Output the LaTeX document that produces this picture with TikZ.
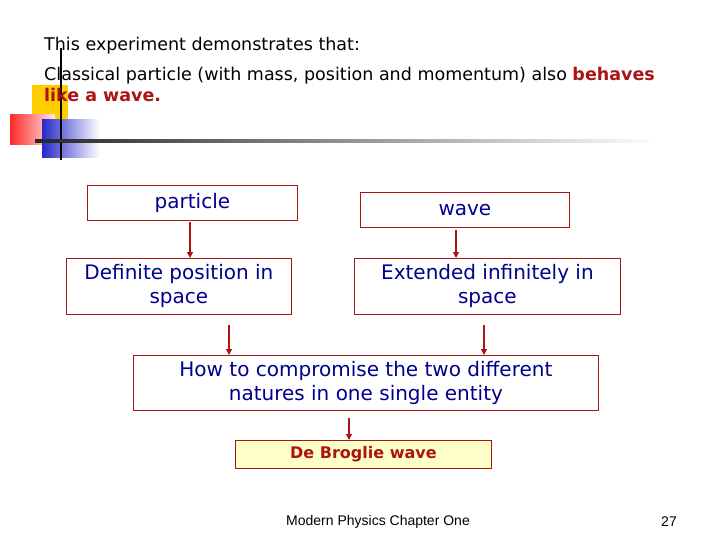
\documentclass[tikz,border=0pt]{standalone}
\usepackage{fontspec}
\setmainfont{DejaVu Sans}
\newfontfamily\footfont{Liberation Sans}
\usetikzlibrary{positioning,arrows.meta}
\definecolor{boxred}{RGB}{170,20,20}
\definecolor{txtblue}{RGB}{0,0,140}
\definecolor{decoyellow}{RGB}{255,204,0}
\definecolor{decored}{RGB}{255,40,40}
\definecolor{decoblue}{RGB}{40,40,200}
\definecolor{paleyellow}{RGB}{255,255,200}
\tikzset{
  box/.style={draw=boxred, line width=0.8pt, inner sep=0pt, align=center,
    text=txtblue, font=\fontsize{20}{24}\selectfont},
  flow/.style={draw=boxred, line width=1.2pt, -{Triangle[length=6pt,width=6pt]}},
}
\begin{document}
\begin{tikzpicture}[x=1pt,y=1pt,yscale=-1]
\useasboundingbox (0,0) rectangle (720,540);
% decoration
\fill[decoyellow] (32,85) rectangle (68,120);
\shade[left color=decored, right color=decored!10] (10,115) rectangle (55,145);
\shade[left color=decoblue, right color=white] (42,120) rectangle (100,158);
\draw[line width=1.5pt] (61,48) -- (61,160);
\shade[left color=black!85, right color=white] (35,140) rectangle (660,142.5);
% heading
\node[anchor=west, inner sep=0pt, font=\fontsize{17.5}{20}\selectfont] (head) at (44,46) {This experiment demonstrates that:};
\node[anchor=north west, align=left, font=\fontsize{17.5}{21}\selectfont, inner sep=0pt] (claim) at (44,67)
  {Classical particle (with mass, position and momentum) also \textcolor{boxred}{\textbf{behaves}}\\
   \textcolor{boxred}{\textbf{like a wave.}}};
% boxes
\node[box, minimum width=210pt, minimum height=35pt, anchor=north west] (particle) at (87,185) {particle};
\node[box, minimum width=209pt, minimum height=35pt, anchor=north west] (wave) at (360,192) {wave};
\node[box, minimum width=225pt, minimum height=56pt, anchor=north west] (definite) at (66,258) {Definite position in\\space};
\node[box, minimum width=266pt, minimum height=56pt, anchor=north west] (extended) at (354,258) {Extended infinitely in\\space};
\node[box, minimum width=465pt, minimum height=55pt, anchor=north west] (how) at (133,355) {How to compromise the two different\\natures in one single entity};
\node[box, fill=paleyellow, text=boxred, font=\bfseries\fontsize{16}{18}\selectfont, minimum width=256pt, minimum height=28pt, anchor=north west] (broglie) at (235,440) {De Broglie wave};
% arrows
\coordinate (a1) at (190,222);
\coordinate (a2) at (456,230);
\coordinate (a3) at (229,325);
\coordinate (a4) at (484,325);
\coordinate (a5) at (349,418);
\draw[flow] (a1) -- (a1 |- definite.north);
\draw[flow] (a2) -- (a2 |- extended.north);
\draw[flow] (a3) -- (a3 |- how.north);
\draw[flow] (a4) -- (a4 |- how.north);
\draw[flow] (a5) -- (a5 |- broglie.north);
% footer
\node[font=\footfont\fontsize{14}{16}\selectfont] (foot) at (378,522) {Modern Physics Chapter One};
\node[font=\footfont\fontsize{14}{16}\selectfont] (page) at (669,522) {27};
\end{tikzpicture}
\end{document}
